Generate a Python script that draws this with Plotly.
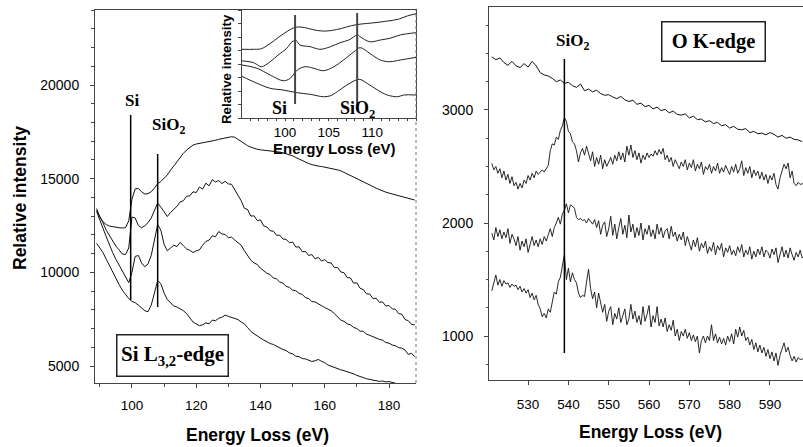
import plotly.graph_objects as go

W, H = 803, 447

# ---------------- Si L3,2-edge (left panel) ----------------
E_SI = list(range(89, 189))          # energy grid, eV
E_SI4 = list(range(89, 183))

si_c1 = [13400, 12950, 12700, 12550, 12470, 12430, 12400, 12380, 12370, 12380,
         12750, 13900, 14450, 14480, 14300, 14180, 14200, 14300, 14500, 14730,
         14850, 15000, 15200, 15450, 15680, 15920, 16150, 16350, 16530, 16680,
         16790, 16850, 16880, 16900, 16920, 16950, 16990, 17050, 17100, 17140,
         17170, 17200, 17240, 17210, 17100, 16950, 16860, 16760, 16680, 16610,
         16570, 16540, 16520, 16500, 16490, 16480, 16460, 16420, 16380, 16340,
         16300, 16220, 16130, 16040, 15950, 15880, 15810, 15750, 15700, 15670,
         15650, 15620, 15580, 15540, 15500, 15470, 15420, 15340, 15250, 15160,
         15070, 14990, 14910, 14830, 14760, 14670, 14580, 14490, 14410, 14340,
         14280, 14230, 14180, 14140, 14100, 14050, 14000, 13950, 13900, 13860]

si_c2 = [13300, 13000, 12650, 12250, 11950, 11650, 11400, 11200, 10980, 10950,
         11300, 12950, 12900, 12500, 12380, 12480, 12650, 12900, 13350, 13700,
         13480, 13200, 12980, 13200, 13380, 13520, 13760, 13820, 14060, 14080,
         14300, 14260, 14560, 14440, 14760, 14620, 14950, 14820, 14900, 14740,
         14860, 14720, 14700, 14420, 14120, 13820, 13420, 13350, 13000, 13020,
         12760, 12800, 12480, 12420, 12220, 12200, 11980, 11980, 11780, 11760,
         11580, 11620, 11350, 11360, 11100, 11120, 10900, 10950, 10720, 10800,
         10600, 10680, 10520, 10500, 10250, 10260, 10020, 9980, 9720, 9700,
         9420, 9440, 9150, 9080, 8850, 8840, 8600, 8620, 8400, 8420,
         8200, 8230, 8050, 8030, 7800, 7760, 7480, 7420, 7220, 7200]

si_c3 = [13250, 12850, 12350, 11900, 11450, 11050, 10700, 10400, 10120, 9800,
         9450, 10000, 10850, 10900, 10500, 10300, 10450, 10900, 11700, 12550,
         12250, 11500, 11150, 11300, 11450, 11380, 11600, 11420, 11250, 11180,
         11060, 11150, 11200, 11450, 11650, 11720, 11950, 11900, 12180, 12050,
         12020, 11850, 11880, 11720, 11600, 11450, 11150, 10900, 10650, 10500,
         10420, 10220, 10100, 9950, 9880, 9700, 9650, 9480, 9420, 9250,
         9200, 9050, 9020, 8880, 8820, 8650, 8600, 8440, 8420, 8300,
         8220, 8120, 8050, 7950, 7800, 7600, 7450, 7380, 7250, 7200,
         7060, 7000, 6860, 6850, 6700, 6640, 6560, 6500, 6420, 6380,
         6250, 6220, 6120, 6080, 5980, 5950, 5850, 5620, 5680, 5500]

si_c4 = [11550, 11300, 11050, 10700, 10350, 10000, 9650, 9350, 9050, 8800,
         8600, 8450, 8380, 8250, 8120, 7950, 7900, 8250, 8900, 9550,
         9400, 8900, 8550, 8350, 8200, 8150, 8050, 7950, 7800, 7550,
         7350, 7250, 7150, 7200, 7300, 7250, 7450, 7420, 7550, 7600,
         7720, 7650, 7600, 7560, 7480, 7350, 7250, 7050, 6850, 6720,
         6600, 6500, 6380, 6300, 6200, 6150, 6050, 5960, 5880, 5820,
         5700, 5650, 5520, 5500, 5400, 5380, 5300, 5240, 5280, 5350,
         5250, 5180, 5050, 4980, 4950, 4880, 4800, 4750, 4700, 4620,
         4580, 4500, 4420, 4380, 4320, 4280, 4250, 4220, 4180, 4200,
         4150, 4170, 4120, 4080]

SI_LINE_E = [99.6, 108.0]
SI_LINE_TOP = [18400, 16317]
SI_LINE_BOT = [8523, 8150]

# ---------------- inset (relative units) ----------------
ins_a_e = [95.07, 96.5, 97.3, 98.3, 99.3, 100.3, 101.2, 102.2, 103.2, 104.3,
           105.3, 106.5, 107.6, 108.7, 110.0, 111.5, 113.0, 114.0, 115.0]
ins_a_v = [0.636, 0.636, 0.642, 0.690, 0.750, 0.805, 0.840, 0.838, 0.818, 0.805,
           0.810, 0.830, 0.855, 0.870, 0.880, 0.895, 0.915, 0.945, 0.965]
ins_b_e = [95.07, 96.4, 97.3, 98.3, 99.2, 100.2, 100.8, 101.3, 101.7, 102.9,
           104.0, 105.2, 106.3, 107.3, 108.3, 108.6, 109.7, 110.9, 112.0, 113.2, 115.0]
ins_b_v = [0.530, 0.512, 0.475, 0.521, 0.583, 0.645, 0.706, 0.716, 0.676, 0.660,
           0.636, 0.660, 0.697, 0.722, 0.769, 0.753, 0.706, 0.722, 0.738, 0.769, 0.790]
ins_c_e = [95.07, 96.8, 98.3, 99.8, 100.6, 101.4, 102.3, 103.3, 104.4, 105.6,
           106.7, 107.9, 108.6, 109.7, 110.9, 112.0, 113.2, 115.0]
ins_c_v = [0.491, 0.460, 0.398, 0.345, 0.368, 0.444, 0.475, 0.460, 0.438, 0.475,
           0.537, 0.614, 0.651, 0.599, 0.537, 0.521, 0.537, 0.562]
ins_d_e = [95.07, 96.8, 98.3, 99.8, 101.4, 102.9, 104.4, 105.2, 106.0, 107.1,
           108.5, 109.4, 110.6, 111.7, 112.9, 113.6, 115.0]
ins_d_v = [0.385, 0.321, 0.275, 0.259, 0.234, 0.219, 0.197, 0.206, 0.244, 0.306,
           0.358, 0.321, 0.259, 0.213, 0.197, 0.213, 0.213]
INS_LINE_E = [101.15, 108.26]
INS_LINE_TOP = [0.954, 0.972]
INS_LINE_BOT = [0.13, 0.074]
INS_TICKS = [100, 105, 110]

# ---------------- O K-edge (right panel) ----------------
E_O = list(range(521, 599))          # 1 eV grid for the top curve
O_START, O_STEP = 521.0, 0.5         # 0.5 eV grid for the noisier curves

o_c1 = [3470, 3445, 3460, 3420, 3395, 3430, 3390, 3375, 3410, 3380,
        3430, 3390, 3330, 3310, 3300, 3280, 3250, 3265, 3235, 3245,
        3215, 3200, 3230, 3170, 3185, 3160, 3175, 3145, 3130, 3135,
        3115, 3100, 3120, 3090, 3075, 3085, 3050, 3060, 3030, 3040,
        3010, 3025, 2995, 3005, 2975, 2990, 2960, 2955, 2965, 2930,
        2945, 2915, 2920, 2895, 2905, 2880, 2890, 2860, 2870, 2840,
        2855, 2830, 2825, 2835, 2800, 2810, 2790, 2795, 2780, 2800,
        2785, 2760, 2775, 2750, 2760, 2740, 2735, 2720]

o_c2 = [2528, 2470, 2500, 2440, 2480, 2400, 2460, 2380, 2430, 2350,
        2410, 2330, 2360, 2300, 2350, 2310, 2380, 2350, 2420, 2380,
        2440, 2400, 2460, 2430, 2450, 2470, 2450, 2480, 2510, 2640,
        2700, 2690, 2760, 2740, 2820, 2860, 2930, 2900, 2810, 2790,
        2720, 2700, 2640, 2540, 2620, 2660, 2600, 2680, 2620, 2550,
        2630, 2500, 2580, 2520, 2600, 2480, 2560, 2500, 2540, 2580,
        2520, 2600, 2550, 2630, 2560, 2620, 2540, 2680, 2600, 2690,
        2580, 2640, 2560, 2620, 2530, 2600, 2560, 2620, 2580, 2610,
        2590, 2640, 2600, 2650, 2610, 2660, 2560, 2600, 2540, 2580,
        2500, 2560, 2520, 2480, 2540, 2500, 2560, 2470, 2530, 2490,
        2560, 2460, 2520, 2480, 2540, 2430, 2500, 2470, 2520, 2440,
        2500, 2460, 2530, 2440, 2490, 2450, 2510, 2470, 2430, 2500,
        2450, 2520, 2440, 2480, 2550, 2420, 2490, 2440, 2500, 2400,
        2470, 2420, 2460, 2390, 2450, 2380, 2430, 2350, 2420, 2380,
        2440, 2340, 2300, 2400, 2460, 2520, 2480, 2530, 2400, 2460,
        2350, 2330, 2360, 2340, 2350, 2330]

o_c3 = [1910, 1850, 1960, 1880, 1940, 1860, 1920, 1870, 1950, 1820,
        1900, 1860, 1800, 1880, 1760, 1840, 1790, 1860, 1740, 1820,
        1880, 1800, 1850, 1790, 1860, 1810, 1880, 1840, 1900, 1950,
        1880, 1960, 2000, 2050, 1990, 2080, 2110, 2170, 2090, 2160,
        2150, 2130, 2050, 2030, 2040, 2020, 2030, 2000, 2040, 2010,
        1990, 2030, 1960, 2020, 1900, 1980, 2010, 1880, 1950, 2060,
        1890, 1990, 1860, 1960, 2040, 1900, 1980, 1870, 2070, 1920,
        1990, 1870, 1960, 1890, 2000, 1850, 1950, 1900, 1980, 1880,
        1940, 1860, 1990, 1900, 1960, 1870, 1930, 1950, 1860, 1970,
        1880, 1920, 1840, 1900, 1850, 1920, 1800, 1880, 1830, 1760,
        1850, 1790, 1870, 1750, 1820, 1780, 1840, 1730, 1790, 1750,
        1830, 1720, 1800, 1760, 1820, 1700, 1780, 1740, 1800, 1720,
        1760, 1710, 1790, 1740, 1810, 1700, 1760, 1720, 1790, 1680,
        1750, 1700, 1770, 1720, 1790, 1700, 1760, 1740, 1690, 1770,
        1720, 1780, 1650, 1730, 1790, 1700, 1760, 1690, 1780, 1720,
        1670, 1740, 1700, 1760, 1690, 1710]

o_c4 = [1400, 1480, 1540, 1450, 1500, 1440, 1490, 1460, 1470, 1430,
        1460, 1440, 1450, 1410, 1440, 1390, 1420, 1380, 1410, 1340,
        1380, 1320, 1360, 1280, 1240, 1170, 1200, 1160, 1240, 1210,
        1320, 1390, 1370, 1480, 1520, 1640, 1720, 1500, 1600, 1480,
        1560, 1500, 1470, 1380, 1340, 1360, 1350, 1480, 1590, 1420,
        1330, 1390, 1250, 1380, 1300, 1210, 1280, 1130, 1220, 1260,
        1100, 1200, 1150, 1250, 1120, 1180, 1240, 1100, 1150, 1280,
        1150, 1220, 1120, 1180, 1100, 1260, 1130, 1190, 1270, 1080,
        1180, 1120, 1260, 1090, 1150, 1080, 1160, 1040, 1100, 1050,
        1140, 1000, 1060, 960, 1040, 1000, 1060, 980, 1030, 960,
        1010, 950, 1000, 850, 960, 1000, 940, 1000, 960, 1100,
        960, 1020, 940, 990, 930, 980, 920, 1000, 950, 1020,
        930, 1060, 990, 1080, 1000, 1050, 960, 990, 920, 970,
        880, 940, 860, 920, 850, 900, 820, 880, 800, 860,
        780, 850, 740, 830, 880, 940, 860, 900, 830, 780,
        820, 770, 810, 790, 800, 780]

O_LINE_E = 539.0
O_LINE_TOP = 3451
O_LINE_BOT = 850


def px(x):
    return x / W


def py(y):
    return 1 - y / H


def grid(vals):
    return [O_START + O_STEP * i for i in range(len(vals))]


SANS = "Liberation Sans, Arial, sans-serif"
SERIF = "Liberation Serif, Times New Roman, serif"

fig = go.Figure()
line_main = dict(color="#111111", width=1)

for ys, xs in [(si_c1, E_SI), (si_c2, E_SI), (si_c3, E_SI), (si_c4, E_SI4)]:
    fig.add_trace(go.Scatter(x=xs, y=ys, mode="lines", line=line_main,
                             xaxis="x", yaxis="y", showlegend=False))
for e, t, b in zip(SI_LINE_E, SI_LINE_TOP, SI_LINE_BOT):
    fig.add_trace(go.Scatter(x=[e, e], y=[b, t], mode="lines",
                             line=dict(color="#000000", width=1.5),
                             xaxis="x", yaxis="y", showlegend=False))

fig.add_trace(go.Scatter(x=E_O, y=o_c1, mode="lines", line=line_main,
                         xaxis="x2", yaxis="y2", showlegend=False))
for ys in [o_c2, o_c3, o_c4]:
    fig.add_trace(go.Scatter(x=grid(ys), y=ys, mode="lines", line=dict(color="#111111", width=0.9),
                             xaxis="x2", yaxis="y2", showlegend=False))
fig.add_trace(go.Scatter(x=[O_LINE_E, O_LINE_E], y=[O_LINE_BOT, O_LINE_TOP],
                         mode="lines", line=dict(color="#000000", width=1.5),
                         xaxis="x2", yaxis="y2", showlegend=False))

for xs, ys in [(ins_a_e, ins_a_v), (ins_b_e, ins_b_v), (ins_c_e, ins_c_v), (ins_d_e, ins_d_v)]:
    fig.add_trace(go.Scatter(x=xs, y=ys, mode="lines", line=dict(color="#222222", width=1),
                             line_shape="spline", xaxis="x3", yaxis="y3", showlegend=False))
for e, t, b in zip(INS_LINE_E, INS_LINE_TOP, INS_LINE_BOT):
    fig.add_trace(go.Scatter(x=[e, e], y=[b, t], mode="lines",
                             line=dict(color="#444444", width=2),
                             xaxis="x3", yaxis="y3", showlegend=False))

axis_common = dict(showgrid=False, zeroline=False, showline=True, linecolor="#444444",
                   linewidth=1, mirror=True, ticks="outside", ticklen=4, tickcolor="#444444",
                   automargin=False,
                   tickfont=dict(family=SANS, size=14, color="#000000"))

fig.update_layout(
    width=W, height=H, autosize=False,
    margin=dict(l=0, r=0, t=0, b=0),
    paper_bgcolor="white", plot_bgcolor="white",
    xaxis=dict(axis_common, domain=[px(95), px(416)], range=[88.5, 188.4],
               dtick=20, tick0=0, minor=dict(dtick=10, ticklen=3, ticks="outside", tickcolor="#444444"),
               ticklabelstandoff=6, tickfont=dict(family=SANS, size=13.5, color="#000")),
    yaxis=dict(axis_common, domain=[py(383), py(10)], range=[4093, 24004],
               dtick=5000, tick0=0, tickformat="d", mirror=False,
               minor=dict(dtick=1000, ticklen=3, ticks="outside", tickcolor="#444444"),
               ticklabelstandoff=8),
    xaxis2=dict(axis_common, domain=[px(489), 1.0], range=[520.3, 598.2],
                dtick=10, tick0=0, ticklabelstandoff=8,
                tickfont=dict(family=SANS, size=13.5, color="#000"), anchor="y2"),
    yaxis2=dict(axis_common, domain=[py(380), py(7)], range=[611, 3911],
                dtick=1000, tick0=0, tickformat="d", mirror=False,
                minor=dict(dtick=250, ticklen=2, ticks="outside", tickcolor="#444444"),
                ticklabelstandoff=8, anchor="x2"),
    xaxis3=dict(axis_common, domain=[px(242), px(416)], range=[95.07, 115.0],
                tickmode="array", tickvals=INS_TICKS, ticklen=2, ticklabelstandoff=0,
                minor=dict(dtick=1, ticklen=2, ticks="outside", tickcolor="#444444"),
                tickfont=dict(family=SANS, size=13.5, color="#000"), anchor="y3"),
    yaxis3=dict(axis_common, domain=[py(118), py(10)], range=[0, 1],
                dtick=0.125, ticklen=3, showticklabels=False, anchor="x3"),
    shapes=[dict(type="line", xref="x domain", yref="y domain", x0=1, x1=1, y0=0, y1=1,
                 line=dict(color="#777777", width=1, dash="dot"))],
)

ann = []


def text(x, y, s, size, family=SANS, bold=True, angle=0, **kw):
    ann.append(dict(x=px(x), y=py(y), xref="paper", yref="paper", text=s, showarrow=False,
                    xanchor="center", yanchor="middle", textangle=angle,
                    font=dict(family=family, size=size, color="#000000",
                              weight="bold" if bold else "normal"), **kw))


text(20, 198, "Relative intensity", 17.5, angle=-90)
text(257, 435, "Energy Loss (eV)", 17.5)
text(650, 432, "Energy Loss (eV)", 17.5)
text(334, 149, "Energy Loss (eV)", 15)
text(226, 69, "Relative intensity", 13.3, angle=-90)

text(132, 101, "Si", 17, family=SERIF)
text(168, 126, "SiO<sub>2</sub>", 17, family=SERIF)
text(572, 42, "SiO<sub>2</sub>", 17, family=SERIF)
text(279, 108, "Si", 18, family=SERIF)
text(357, 110, "SiO<sub>2</sub>", 18, family=SERIF)

text(172.5, 355, "Si L<sub>3,2</sub>-edge", 21, family=SERIF,
     bordercolor="#222222", borderwidth=1.5, borderpad=0, width=110, height=40,
     bgcolor="white")
text(713, 41, "O K-edge", 20.5, family=SERIF,
     bordercolor="#222222", borderwidth=1.5, borderpad=0, width=102, height=38,
     bgcolor="white")

fig.update_layout(annotations=ann)
fig.write_html("out.html", config={"displayModeBar": False},
               post_script="document.body.style.margin='0';")
